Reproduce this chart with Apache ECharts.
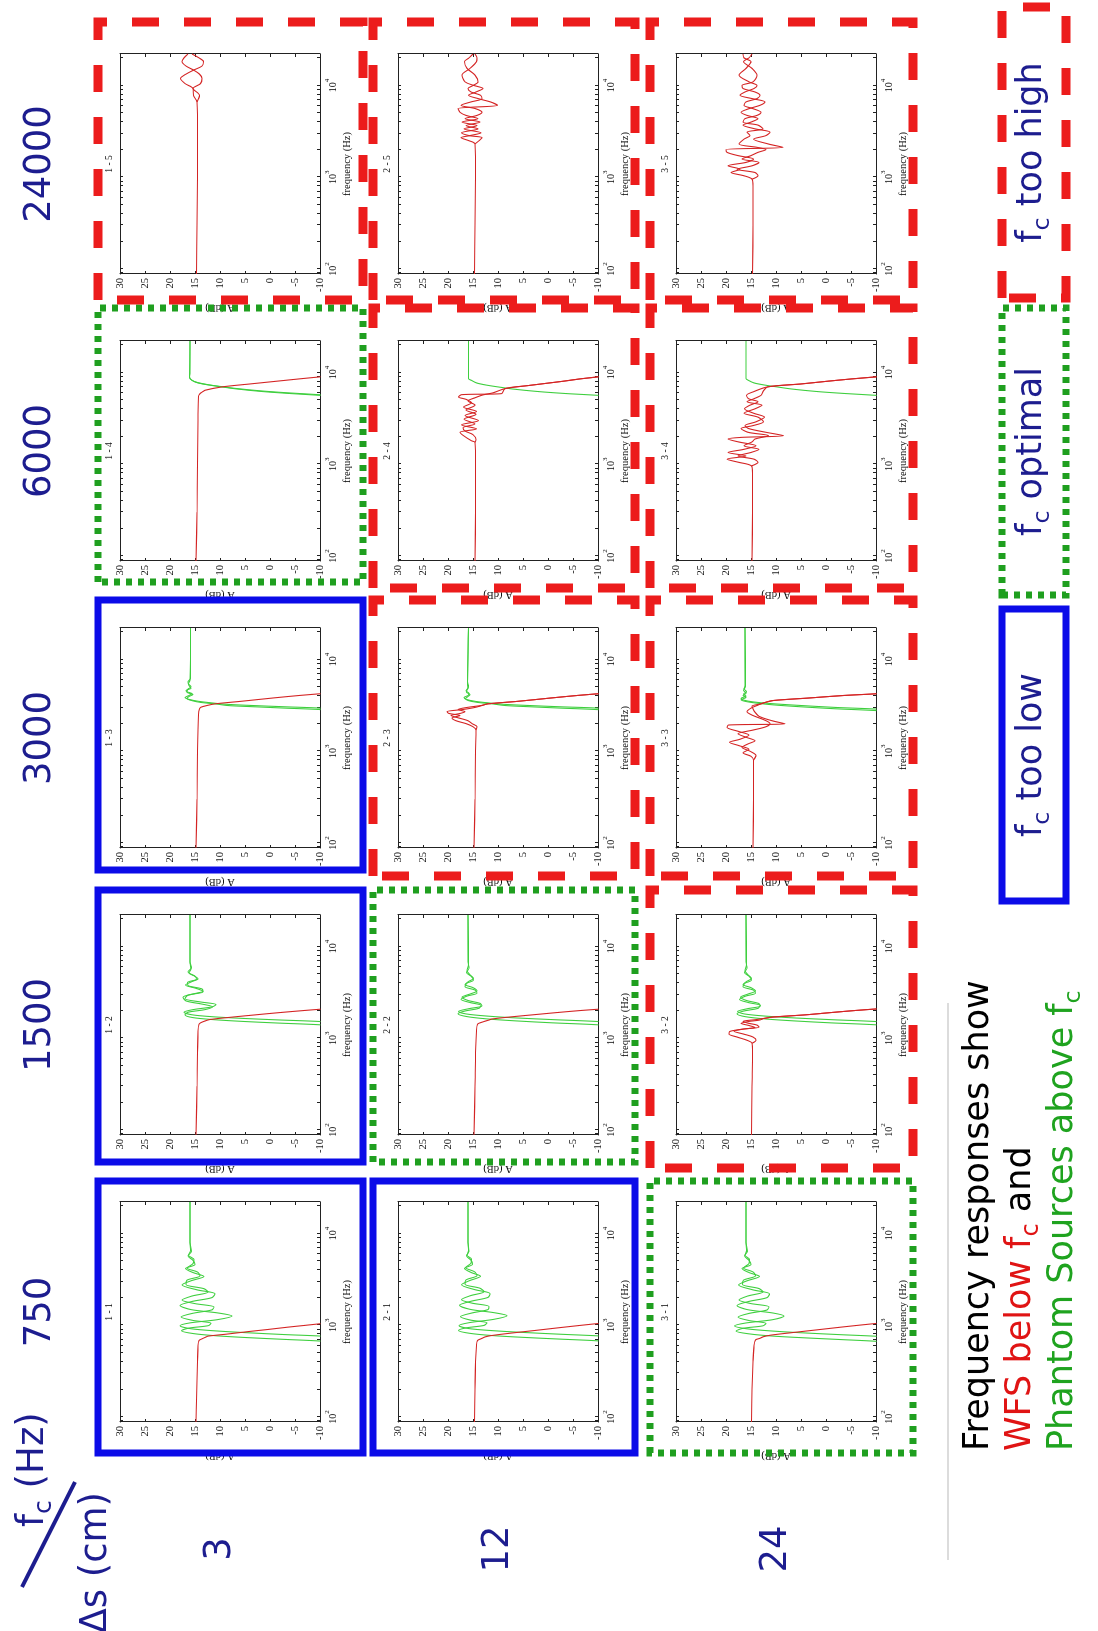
<!DOCTYPE html>
<html><head><meta charset="utf-8">
<script src="https://cdn.jsdelivr.net/npm/echarts@6/dist/echarts.min.js"></script>
<style>
html,body{margin:0;padding:0;background:#fff;overflow:hidden;width:1098px;height:1631px;}
#wrap{position:absolute;left:0;top:0;width:1631px;height:1098px;transform-origin:0 0;transform:translateY(1631px) rotate(-90deg);}
</style></head><body><div id="wrap"></div>
<script>
// ---------------- DATA ----------------
const fcValues = ['750', '1500', '3000', '6000', '24000'];
const dsValues = ['3', '12', '24'];
const freqRange = [88, 22050];
const freqLabelTicks = [100, 1000, 10000];
const freqTicks = [90,100,200,300,400,500,600,700,800,900,1000,2000,3000,4000,5000,6000,7000,8000,9000,10000,20000];
const dbRange = [-10, 30];
const dbStep = 5;
const boxKind = [
  ['low', 'low', 'low', 'opt', 'high'],
  ['low', 'opt', 'high', 'high', 'high'],
  ['opt', 'high', 'high', 'high', 'high']
];

// fc = 750
const r11 = [[88,14.8],[150,14.7],[250,14.6],[400,14.5],[600,14.4],[680,14.2],[710,13.6],[740,12.9],[760,12.4],[800,8.6],[850,4.5],[900,0.3],[950,-3.4],[1000,-7.3],[1040,-10.2],[1100,-14]];
const g11a = [[640,-14],[672,-10],[700,-3],[730,4],[765,10.5],[810,15.3],[870,17.7],[930,16.2],[990,12.3],[1050,11.8],[1130,15.5],[1230,17.8],[1350,15.4],[1470,11.6],[1580,11.2],[1720,15],[1880,17.6],[2080,15.6],[2300,12.4],[2500,13.2],[2780,16.8],[3100,16.6],[3450,14],[3800,14.5],[4200,16.6],[4700,15.4],[5200,15.2],[5800,16.3],[6500,15.9],[8000,16],[22050,16]];
const g11b = [[730,-14],[762,-10],[790,-3],[825,4],[865,10.6],[915,15.8],[985,18],[1060,16],[1150,10.5],[1260,7.6],[1360,10.4],[1480,15.8],[1640,18],[1820,15.5],[2000,11.6],[2200,11],[2430,14.6],[2750,17.6],[3050,15.8],[3400,13.2],[3750,15.4],[4150,16.9],[4600,15],[5100,15.4],[5700,16.4],[6400,15.7],[8000,16],[22050,16]];
const r21 = [[88,14.7],[200,14.6],[400,14.5],[600,14.3],[680,14.1],[715,13.3],[745,12.6],[770,11.4],[820,7.4],[880,2.3],[940,-2.3],[1000,-6.8],[1045,-10.1],[1100,-14]];
const g21a = [[640,-14],[675,-10],[705,-2.5],[735,4.5],[770,11],[815,15.6],[875,17.9],[935,16.4],[995,12.8],[1060,12.2],[1140,15.6],[1240,17.5],[1360,15.2],[1480,12],[1600,11.8],[1740,15.2],[1900,17.3],[2100,15.5],[2320,12.8],[2530,13.6],[2800,16.6],[3120,16.4],[3480,14.2],[3830,14.7],[4250,16.5],[4750,15.4],[5250,15.3],[5800,16.2],[6500,15.9],[8000,16],[22050,16]];
const g21b = [[735,-14],[765,-10],[795,-3],[830,4.2],[870,10.8],[920,15.9],[990,17.8],[1065,15.8],[1160,10.8],[1270,8.2],[1370,10.8],[1490,15.6],[1650,17.7],[1830,15.3],[2010,12],[2210,11.6],[2440,14.6],[2760,17.3],[3060,15.7],[3420,13.5],[3760,15.4],[4160,16.7],[4620,15.1],[5120,15.4],[5700,16.3],[6400,15.8],[8000,16],[22050,16]];
const r31 = [[88,14.9],[200,14.8],[400,14.6],[600,14.4],[690,14.1],[720,13.2],[750,12.5],[780,11],[830,6.8],[890,1.8],[950,-2.8],[1000,-6.6],[1045,-10],[1100,-14]];
const g31a = [[640,-14],[668,-10],[698,-2.8],[728,4.2],[762,10.8],[805,15.4],[862,18],[925,16.6],[985,12.6],[1045,12],[1125,15.4],[1225,17.6],[1345,15.4],[1465,11.8],[1585,11.4],[1725,15.1],[1885,17.4],[2085,15.6],[2305,12.6],[2510,13.4],[2785,16.7],[3100,16.5],[3460,14.1],[3810,14.6],[4210,16.5],[4700,15.4],[5200,15.3],[5800,16.2],[6500,15.9],[8000,16],[22050,16]];
const g31b = [[728,-14],[758,-10],[788,-3],[822,4],[862,10.5],[912,15.7],[982,18.3],[1058,16],[1148,10.7],[1258,8.4],[1358,10.6],[1478,15.7],[1638,17.8],[1818,15.4],[1998,11.8],[2198,11.3],[2428,14.6],[2748,17.5],[3048,15.8],[3400,13.3],[3750,15.4],[4150,16.8],[4600,15],[5100,15.4],[5700,16.3],[6400,15.7],[8000,16],[22050,16]];

// fc = 1500
const r12 = [[88,14.8],[300,14.6],[700,14.5],[1200,14.4],[1420,14.2],[1480,13.8],[1540,13],[1600,12],[1700,7.5],[1800,2.8],[1900,-1.8],[2000,-6.6],[2070,-10],[2200,-16]];
const g12a = [[1330,-14],[1400,-10],[1460,-2],[1520,5],[1590,11],[1680,15.5],[1800,17],[1920,16.4],[2050,13],[2200,11.5],[2350,13.5],[2550,16.8],[2800,17.4],[3050,15.2],[3250,13.4],[3500,14.8],[3800,16.9],[4150,15.6],[4450,14.4],[4800,15.2],[5300,16.4],[5900,15.7],[6800,16],[22050,16]];
const g12b = [[1450,-14],[1520,-10],[1580,-2],[1640,5],[1710,11.2],[1800,15.6],[1920,17.2],[2050,15.4],[2200,11.5],[2330,10.8],[2480,13.8],[2700,17],[2950,16.4],[3200,13.4],[3450,13.6],[3750,16.4],[4050,16.5],[4400,14.7],[4750,15],[5150,16.2],[5700,15.8],[6600,16],[22050,16]];
const r22 = [[88,14.8],[300,14.6],[700,14.5],[1200,14.3],[1420,14.1],[1470,13.6],[1520,12.8],[1580,11.8],[1620,11.2],[1700,7.8],[1800,3],[1900,-1.6],[2000,-6.3],[2070,-10],[2200,-16]];
const g22a = [[1330,-14],[1400,-10],[1470,-1],[1540,6],[1620,12],[1720,16.2],[1850,18],[1980,16.6],[2120,13.8],[2280,13.4],[2450,15.6],[2650,17.4],[2880,16.2],[3100,14.2],[3350,14.6],[3650,16.6],[3980,16.2],[4300,14.9],[4700,15.3],[5200,16.3],[5800,15.8],[6800,16],[22050,16]];
const g22b = [[1450,-14],[1520,-10],[1590,-1.5],[1660,6],[1740,12],[1840,16.4],[1960,17.9],[2100,15.8],[2250,13.2],[2400,13.6],[2580,16],[2800,17.2],[3030,15.6],[3280,14.2],[3560,15],[3850,16.6],[4150,15.9],[4500,14.9],[4900,15.6],[5500,16.2],[6300,15.9],[22050,16]];
const r32a = [[88,14.9],[300,14.8],[700,14.7],[880,14.8],[950,15.8],[1030,17.8],[1110,19.4],[1180,19.3],[1250,17],[1310,14.2],[1380,15.5],[1450,17],[1520,15.5],[1580,13.2],[1640,12.5],[1700,10.5],[1800,4],[1900,-0.8],[2000,-5.6],[2084,-10],[2200,-16]];
const r32b = [[880,14.8],[950,14],[1030,14.6],[1110,16.5],[1190,18.4],[1260,16.4],[1320,13.4],[1390,13.8],[1460,15.6],[1530,16.6],[1590,14.2],[1650,12.2],[1700,10.8],[1800,4],[1900,-0.8],[2000,-5.6],[2084,-10],[2200,-16]];
const g32a = [[1330,-14],[1400,-10],[1468,-1.2],[1538,5.8],[1616,11.8],[1716,16.1],[1846,17.8],[1976,16.5],[2116,13.6],[2276,13.2],[2446,15.5],[2646,17.3],[2876,16.1],[3096,14.1],[3346,14.5],[3646,16.6],[3976,16.2],[4296,14.9],[4696,15.3],[5196,16.3],[5796,15.8],[6800,16],[22050,16]];
const g32b = [[1450,-14],[1520,-10],[1588,-1.6],[1658,5.8],[1738,11.9],[1838,16.3],[1958,17.7],[2098,15.7],[2248,13.1],[2398,13.5],[2578,15.9],[2798,17.1],[3028,15.6],[3278,14.1],[3558,15],[3848,16.6],[4148,15.9],[4498,14.9],[4898,15.6],[5498,16.2],[6298,15.9],[22050,16]];

// fc = 3000
const r13 = [[88,14.8],[300,14.6],[1000,14.5],[2500,14.3],[2900,14.1],[3020,13.8],[3150,12.6],[3284,11],[3500,5.8],[3800,-0.5],[4050,-5.8],[4230,-10],[4500,-16]];
const g13a = [[2700,-14],[2845,-10],[2950,-3],[3050,3],[3150,8.5],[3284,11],[3400,13.8],[3550,15.5],[3750,16.6],[3950,16.2],[4150,15.4],[4350,16.5],[4600,16.8],[4850,15.8],[5200,16.2],[5700,16.4],[6200,15.9],[22050,15.9]];
const g13b = [[2800,-14],[2950,-10],[3050,-3],[3150,3.5],[3250,8.8],[3380,12],[3500,14.3],[3650,16],[3850,17],[4050,16.2],[4250,15.6],[4480,16.6],[4750,16.4],[5050,15.8],[5450,16.3],[6000,16],[22050,15.9]];
const r23a = [[88,14.8],[300,14.6],[1000,14.5],[1700,14.4],[1850,15],[2000,16.4],[2150,18.4],[2300,19.2],[2450,17.6],[2580,19.8],[2700,20.2],[2850,17],[3000,14.6],[3150,13.2],[3284,12],[3500,6],[3800,-0.5],[4050,-5.8],[4230,-10],[4500,-16]];
const r23b = [[1700,14.4],[1850,14.2],[2000,15.2],[2150,16],[2300,17.8],[2450,19.4],[2580,17.6],[2700,16.6],[2850,18],[3000,16.2],[3150,13.4],[3284,12],[3500,6],[3800,-0.5],[4050,-5.8],[4230,-10],[4500,-16]];
const g23a = [[2700,-14],[2840,-10],[2950,-2.6],[3050,3.4],[3150,8.6],[3284,11.2],[3400,14],[3550,15.8],[3750,16.5],[3950,16],[4150,15.6],[4400,16.3],[4700,16.2],[5100,15.9],[5700,16.1],[22050,15.9]];
const g23b = [[2800,-14],[2950,-10],[3050,-2.5],[3150,3.8],[3250,9],[3380,12.3],[3500,14.6],[3650,16.2],[3850,16.8],[4050,16],[4280,15.8],[4550,16.4],[4850,16],[5300,16.1],[22050,15.9]];
const r33a = [[88,14.6],[300,14.5],[800,14.5],[880,15],[960,16.6],[1050,15.4],[1150,17.4],[1250,19.3],[1350,17.2],[1500,15.4],[1650,17.6],[1820,19.8],[1930,19.5],[1990,8.2],[2150,10.8],[2400,13.4],[2661,14.2],[2900,14.6],[3100,14.8],[3284,13],[3450,11.8],[3573,10.5],[3800,3.5],[4050,-3.5],[4230,-10],[4500,-16]];
const r33b = [[800,14.5],[900,14],[1000,15.2],[1100,16.8],[1200,15.6],[1300,14.2],[1420,16],[1550,17.6],[1700,14.6],[1850,12],[2000,11.2],[2200,12.4],[2450,14.6],[2700,15.8],[2950,15],[3150,13.8],[3350,12.6],[3573,10.5],[3800,3.5],[4050,-3.5],[4230,-10],[4500,-16]];
const g33a = [[2650,-14],[2774,-10],[2900,-2],[3050,5],[3200,10.5],[3350,14],[3500,16.2],[3650,17],[3850,16],[4050,16.6],[4300,16],[4600,16.5],[5010,16.2],[22050,16.2]];
const g33b = [[2750,-14],[2880,-10],[3000,-2],[3150,5],[3300,10.8],[3450,14.6],[3600,16.4],[3780,17],[3980,16],[4200,16.5],[4450,15.9],[4800,16.4],[5200,16.1],[22050,16.2]];

// fc = 6000
const r14 = [[88,14.8],[300,14.6],[1000,14.5],[3000,14.4],[5500,14.3],[5880,14],[6100,13.6],[6400,13],[6965,9.6],[7500,4],[8000,-1],[8500,-5.7],[8960,-10],[9500,-15]];
const g14a = [[5400,-14],[5634,-10],[5900,-4],[6200,1.5],[6600,6.5],[6965,9.6],[7300,12.2],[7700,14.4],[8200,15.6],[8800,16.1],[10000,16],[22050,16]];
const g14b = [[5500,-14],[5720,-10],[6000,-3.6],[6300,1.8],[6700,6.8],[7050,10],[7400,12.6],[7800,14.6],[8300,15.7],[9000,16.1],[22050,16]];
const r24a = [[88,14.6],[300,14.5],[1000,14.5],[1730,14.6],[1800,15.3],[2048,16.9],[2228,17.6],[2426,14.3],[2685,17.3],[2993,13.9],[3396,16.6],[3760,14.3],[4199,16.9],[4677,15.3],[5100,16.4],[5405,17.9],[5730,17.3],[5880,9.3],[6670,8.6],[7200,4],[8000,-2.8],[8500,-6.3],[8960,-10],[9500,-14]];
const r24b = [[1730,14.6],[1850,14.4],[2100,15],[2300,16.6],[2500,17],[2750,14.6],[3100,16.8],[3500,14.4],[3900,16.4],[4400,14.6],[4900,16],[5300,14.6],[5700,13],[6000,11],[6670,8.6],[7200,4],[8000,-2.8],[8500,-6.3],[8960,-10],[9500,-14]];
const g24 = [[5400,-14],[5634,-10],[5900,-3.5],[6200,2],[6600,7],[6965,10],[7300,12.4],[7700,14.3],[8200,15.3],[8590,15.9],[10000,15.9],[22050,15.9]];
const r34a = [[88,14.8],[300,14.7],[800,14.7],[958,14.9],[1050,17.5],[1135,19.8],[1230,16],[1343,19.6],[1450,16.5],[1589,14],[1750,17.5],[1882,19.6],[1960,17],[2048,8.5],[2228,12],[2450,15.5],[2636,16.2],[2900,14],[3259,12.3],[3600,14.5],[4019,16.3],[4400,15.2],[4800,13.6],[5180,15.5],[5634,15.9],[6200,14.4],[6965,11.7],[7500,5],[8000,0],[8500,-5],[8960,-10],[9500,-15]];
const r34b = [[958,14.9],[1050,13.6],[1135,14.4],[1230,17.6],[1343,15],[1450,13.4],[1589,16.4],[1750,14.8],[1882,14.2],[2048,11.5],[2228,15.6],[2450,17],[2636,14.6],[2900,12.5],[3259,13.6],[3600,16.4],[4019,14.2],[4400,12.8],[4800,15.8],[5180,14.4],[5634,13],[6200,12.6],[6965,11.7],[7500,5],[8000,0],[8500,-5],[8960,-10],[9500,-15]];
const g34 = [[5400,-14],[5634,-10],[5900,-3.8],[6200,1.8],[6600,6.8],[6965,9.8],[7300,12.3],[7700,14.4],[8200,15.5],[8600,16],[10000,16],[22050,16]];

// fc = 24000
const r15a = [[88,14.7],[300,14.6],[1000,14.5],[3000,14.5],[6600,14.6],[7800,15.3],[9270,15.4],[10500,17],[11940,17.9],[13300,16.8],[14720,15.3],[16300,13.6],[18200,13.3],[20000,14.2],[22050,15.6]];
const r15b = [[6600,14.6],[7800,14.1],[9270,15.4],[10500,13.9],[11940,13.6],[13300,14.1],[14720,15.3],[16300,16.8],[18200,17.6],[20000,17.2],[22050,16.4]];
const r25a = [[88,14.7],[300,14.6],[1000,14.5],[2306,14.6],[2500,15.8],[2700,17.4],[2844,15.6],[3050,13.4],[3366,16.8],[3650,14.2],[3990,17.2],[4350,14],[4720,16.4],[5100,17.6],[5590,18],[6080,10.1],[6620,11.5],[7200,14],[7830,15.9],[8500,14.4],[9270,13],[10000,14.8],[10960,16.6],[12980,17.2],[15370,15.6],[18200,14.3],[20000,14.2],[22050,14.6]];
const r25b = [[2306,14.6],[2500,13.8],[2700,13.2],[2844,15.8],[3050,17.3],[3366,14],[3650,16.4],[3990,13.6],[4350,16.6],[4720,14.2],[5100,13.2],[5590,14.5],[6080,17.4],[6620,15.4],[7200,13.2],[7830,13.5],[8500,15.4],[9270,16],[10000,15],[10960,14],[12980,14.6],[15370,16.2],[18200,16.7],[20000,15.8],[22050,15]];
const r35a = [[88,14.7],[300,14.6],[800,14.6],[951,14.8],[1040,16.5],[1125,19],[1220,17.2],[1331,19.6],[1450,16],[1577,14.5],[1720,17.6],[1866,19.8],[2000,20],[2118,8.6],[2300,11.5],[2600,14.5],[2844,12],[3100,11.2],[3366,14.2],[3700,16.6],[3990,15],[4350,13.6],[4720,15.8],[5100,17],[5590,15.4],[6080,13.2],[6620,12.2],[7200,14.8],[7830,17.2],[8500,16.2],[9270,14.4],[10000,13.8],[10960,15.4],[12980,17.4],[15370,16],[18200,15],[20000,16.4],[22050,16.6]];
const r35b = [[951,14.8],[1040,13.6],[1125,14.2],[1220,17.8],[1331,14.8],[1450,13.4],[1577,16.8],[1720,15],[1866,13.6],[2000,12],[2118,13.8],[2300,17.4],[2600,16.4],[2844,15.2],[3100,15.8],[3366,12.6],[3700,13.6],[3990,16.6],[4350,16.2],[4720,13.8],[5100,13],[5590,14.6],[6080,16.4],[6620,16],[7200,13.8],[7830,13.2],[8500,14.2],[9270,16.6],[10000,16.8],[10960,14.6],[12980,13.8],[15370,14.8],[18200,16.5],[20000,15.4],[22050,14.8]];

const redCurves = {
  '1-1':[r11], '2-1':[r21], '3-1':[r31],
  '1-2':[r12], '2-2':[r22], '3-2':[r32a, r32b],
  '1-3':[r13], '2-3':[r23a, r23b], '3-3':[r33a, r33b],
  '1-4':[r14], '2-4':[r24a, r24b], '3-4':[r34a, r34b],
  '1-5':[r15a, r15b], '2-5':[r25a, r25b], '3-5':[r35a, r35b]
};
const greenCurves = {
  '1-1':[g11a, g11b], '2-1':[g21a, g21b], '3-1':[g31a, g31b],
  '1-2':[g12a, g12b], '2-2':[g22a, g22b], '3-2':[g32a, g32b],
  '1-3':[g13a, g13b], '2-3':[g23a, g23b], '3-3':[g33a, g33b],
  '1-4':[g14a, g14b], '2-4':[g24], '3-4':[g34],
  '1-5':[], '2-5':[], '3-5':[]
};

// ---------------- LAYOUT (unrotated frame, 1631 x 1098) ----------------
const RED = '#d42424', GREEN = '#3fcf3f', NAVY = '#1d1d8f';
const BOX = {
  low:  {stroke:'#0b0be8', lineWidth:7, lineDash:null, ext:0},
  opt:  {stroke:'#1f9f1f', lineWidth:7, lineDash:[6,6], ext:0},
  high: {stroke:'#ec1c1c', lineWidth:9, lineDash:[27,25], ext:6}
};
const SERIF = 'Liberation Serif';
const SANS = 'DejaVu Sans';
const PW = 220, PH = 200;
const gx = [209, 496, 783, 1070, 1357];
const gy = [120, 398, 676];
const bx0 = [178, 469, 761, 1049, 1337], bx1 = [450, 741, 1031, 1323, 1609];
const by0 = [98, 373, 650], by1 = [363, 635, 913];

const grids = [], xAxes = [], yAxes = [], series = [], G = [];

function logLabel(v) {
  const e = Math.log10(v);
  if (Math.abs(e - Math.round(e)) > 1e-6) return '';
  return '{b|10}{s|' + Math.round(e) + '}';
}

let k = 0;
for (let i = 0; i < 3; i++) {
  for (let j = 0; j < 5; j++) {
    const key = (i + 1) + '-' + (j + 1);
    grids.push({left: gx[j], top: gy[i], width: PW, height: PH, show: false});
    const tick = {show: true, inside: true, length: 3, lineStyle: {color: '#222', width: 1}};
    xAxes.push({
      gridIndex: k, type: 'log', logBase: 10, min: freqRange[0], max: freqRange[1], position: 'bottom',
      axisLine: {show: true, onZero: false, lineStyle: {color: '#222', width: 1}},
      axisTick: Object.assign({customValues: freqTicks}, tick),
      splitLine: {show: false}, minorTick: {show: false},
      axisLabel: {show: true, customValues: freqLabelTicks, formatter: logLabel, margin: 4,
        rich: {b: {fontSize: 10, fontFamily: SERIF, color: '#111', lineHeight: 14, verticalAlign: 'bottom'},
               s: {fontSize: 7, fontFamily: SERIF, color: '#111', lineHeight: 14, verticalAlign: 'top'}}},
      name: 'frequency (Hz)', nameLocation: 'middle', nameGap: 22,
      nameTextStyle: {fontSize: 10.5, fontFamily: SERIF, color: '#111'}
    });
    xAxes.push({
      gridIndex: k, type: 'log', logBase: 10, min: freqRange[0], max: freqRange[1], position: 'top',
      axisLine: {show: true, onZero: false, lineStyle: {color: '#222', width: 1}},
      axisTick: Object.assign({customValues: freqTicks}, tick),
      axisLabel: {show: false}, splitLine: {show: false}
    });
    yAxes.push({
      gridIndex: k, type: 'value', min: dbRange[0], max: dbRange[1], interval: dbStep, position: 'left',
      axisLine: {show: true, onZero: false, lineStyle: {color: '#222', width: 1}},
      axisTick: tick, splitLine: {show: false},
      axisLabel: {show: true, fontSize: 10.5, fontFamily: SERIF, color: '#111', margin: 4},
      name: 'A (dB)', nameLocation: 'middle', nameGap: 28, nameRotate: 90,
      nameTextStyle: {fontSize: 10.5, fontFamily: SERIF, color: '#111'}
    });
    yAxes.push({
      gridIndex: k, type: 'value', min: dbRange[0], max: dbRange[1], interval: dbStep, position: 'right',
      axisLine: {show: true, onZero: false, lineStyle: {color: '#222', width: 1}},
      axisTick: tick, axisLabel: {show: false}, splitLine: {show: false}
    });
    greenCurves[key].forEach(d => series.push({
      type: 'line', xAxisIndex: 2 * k, yAxisIndex: 2 * k, data: d, showSymbol: false, symbol: 'none',
      smooth: 0.3, silent: true, clip: true, z: 2, lineStyle: {color: GREEN, width: 1.1}
    }));
    redCurves[key].forEach(d => series.push({
      type: 'line', xAxisIndex: 2 * k, yAxisIndex: 2 * k, data: d, showSymbol: false, symbol: 'none',
      smooth: 0.3, silent: true, clip: true, z: 3, lineStyle: {color: RED, width: 1.1}
    }));
    // panel title
    G.push({type: 'text', x: gx[j] + PW / 2, y: gy[i] - 11, z: 50, silent: true,
      style: {text: (i + 1) + ' - ' + (j + 1), fontSize: 9.5, fontFamily: SERIF, fill: '#111', align: 'center', verticalAlign: 'middle'}});
    // frame box
    const b = BOX[boxKind[i][j]];
    G.push({type: 'rect', z: 100, silent: true,
      shape: {x: bx0[j] - b.ext, y: by0[i], width: bx1[j] - bx0[j] + b.ext, height: by1[i] - by0[i]},
      style: {fill: 'none', stroke: b.stroke, lineWidth: b.lineWidth, lineDash: b.lineDash}});
    k++;
  }
}

// headers
fcValues.forEach((t, j) => G.push({type: 'text', x: gx[j] + PW / 2, y: 40, z: 50, silent: true,
  style: {text: t, fontSize: 37, fontFamily: SANS, fill: NAVY, align: 'center', verticalAlign: 'middle'}}));
dsValues.forEach((t, i) => G.push({type: 'text', x: 82, y: gy[i] + PH / 2, z: 50, silent: true,
  style: {text: t, fontSize: 37, fontFamily: SANS, fill: NAVY, align: 'center', verticalAlign: 'middle'}}));

function richStyle(color, size) {
  return {
    n: {fontSize: size, fontFamily: SANS, fill: color, lineHeight: size * 1.3, verticalAlign: 'middle'},
    s: {fontSize: size * 0.68, fontFamily: SANS, fill: color, lineHeight: size * 1.3, verticalAlign: 'bottom'}
  };
}
// corner header
G.push({type: 'text', x: 104, y: 33, z: 50, silent: true,
  style: {text: '{n|f}{s|c}{n| (Hz)}', rich: richStyle(NAVY, 37), fill: NAVY, align: 'left', verticalAlign: 'middle'}});
G.push({type: 'text', x: 139, y: 96, z: 50, silent: true,
  style: {text: 'Δs (cm)', fontSize: 37, fontFamily: SANS, fill: NAVY, align: 'right', verticalAlign: 'middle'}});
G.push({type: 'line', z: 50, silent: true, shape: {x1: 44, y1: 22, x2: 149, y2: 75},
  style: {stroke: NAVY, lineWidth: 4}});

// explanation text block
G.push({type: 'line', z: 50, silent: true, shape: {x1: 71, y1: 948, x2: 628, y2: 948},
  style: {stroke: '#dcdcdc', lineWidth: 2}});
G.push({type: 'text', x: 180, y: 979, z: 50, silent: true,
  style: {text: 'Frequency responses show', fontSize: 35, fontFamily: SANS, fill: '#000', align: 'left', verticalAlign: 'middle'}});
G.push({type: 'text', x: 180, y: 1021, z: 50, silent: true,
  style: {text: '{r|WFS below f}{rs|c}{k| and}', align: 'left', verticalAlign: 'middle',
    rich: {r: {fontSize: 35, fontFamily: SANS, fill: '#e01414', lineHeight: 45, verticalAlign: 'middle'},
           rs: {fontSize: 24, fontFamily: SANS, fill: '#e01414', lineHeight: 45, verticalAlign: 'bottom'},
           k: {fontSize: 35, fontFamily: SANS, fill: '#000', lineHeight: 45, verticalAlign: 'middle'}}}});
G.push({type: 'text', x: 180, y: 1063, z: 50, silent: true,
  style: {text: '{n|Phantom Sources above f}{s|c}', align: 'left', verticalAlign: 'middle', rich: richStyle('#1fa31f', 35)}});

// legend boxes
const legendBoxes = [
  {kind: 'low', x: 730, w: 292, label: ' too low'},
  {kind: 'opt', x: 1036, w: 287, label: ' optimal'},
  {kind: 'high', x: 1333, w: 291, label: ' too high'}
];
legendBoxes.forEach(L => {
  const b = BOX[L.kind];
  G.push({type: 'rect', z: 100, silent: true, shape: {x: L.x, y: 1002, width: L.w, height: 64},
    style: {fill: 'none', stroke: b.stroke, lineWidth: b.lineWidth, lineDash: b.lineDash}});
  G.push({type: 'text', x: L.x + L.w / 2, y: 1032, z: 50, silent: true,
    style: {text: '{n|f}{s|c}{n|' + L.label + '}', rich: richStyle(NAVY, 35), align: 'center', verticalAlign: 'middle'}});
});

const chart = echarts.init(document.getElementById('wrap'), null, {renderer: 'canvas', width: 1631, height: 1098});
chart.setOption({
  animation: false,
  backgroundColor: '#ffffff',
  grid: grids, xAxis: xAxes, yAxis: yAxes, series: series,
  graphic: {elements: G}
});
</script></body></html>
